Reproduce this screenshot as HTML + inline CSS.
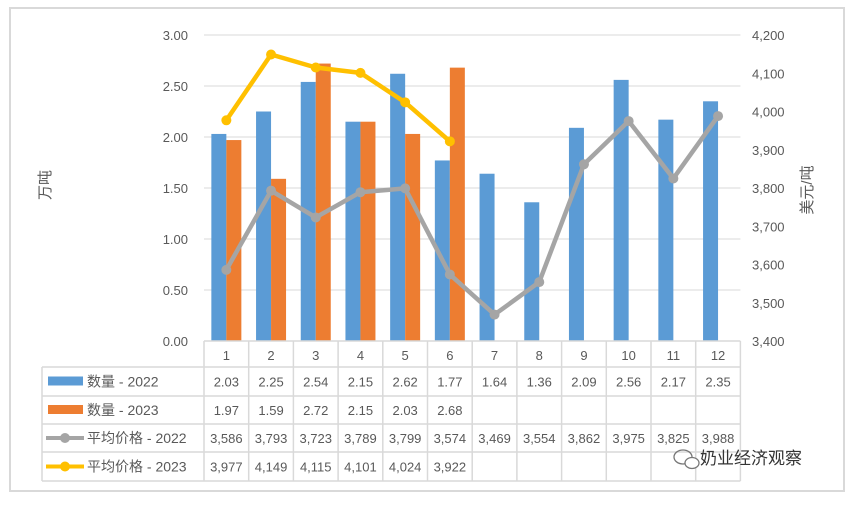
<!DOCTYPE html>
<html><head><meta charset="utf-8"><style>
body{margin:0;background:#fff;font-family:"Liberation Sans","Noto Sans CJK SC",sans-serif;}
svg text{font-family:"Liberation Sans","Noto Sans CJK SC",sans-serif;fill:#595959;}
</style></head><body>
<svg id="chart" width="859" height="503" xmlns="http://www.w3.org/2000/svg">
<rect x="10" y="8" width="834" height="483" fill="#fff" stroke="#d9d9d9" stroke-width="2"/>
<g id="grid"></g><g id="bars"></g><g id="lines"></g><g id="axes"></g><g id="table"></g>
<text x="50" y="185" font-size="15" transform="rotate(-90 50 185)" text-anchor="middle">万吨</text>
<text x="812" y="190" font-size="15" transform="rotate(-90 812 190)" text-anchor="middle">美元/吨</text>
<g>
<ellipse cx="683" cy="457" rx="9" ry="7" fill="none" stroke="#777" stroke-width="1.3"/>
<ellipse cx="692" cy="463" rx="7" ry="5.5" fill="#fff" stroke="#777" stroke-width="1.3"/>
<text x="700" y="464" font-size="17" style="fill:#333">奶业经济观察</text></g>
</svg>
<script>
const categories=["1","2","3","4","5","6","7","8","9","10","11","12"];
const qty2022=[2.03,2.25,2.54,2.15,2.62,1.77,1.64,1.36,2.09,2.56,2.17,2.35];
const qty2023=[1.97,1.59,2.72,2.15,2.03,2.68,null,null,null,null,null,null];
const price2022=[3586,3793,3723,3789,3799,3574,3469,3554,3862,3975,3825,3988];
const price2023=[3977,4149,4115,4101,4024,3922,null,null,null,null,null,null];
const leftTicks=[0,0.5,1,1.5,2,2.5,3];
const rightTicks=[3400,3500,3600,3700,3800,3900,4000,4100,4200];
const NS="http://www.w3.org/2000/svg";
const X0=204,CW=44.7,Y0=341,YT=35;
const yL=v=>Y0-(v/3)*(Y0-YT);
const yR=v=>Y0-((v-3400)/800)*(Y0-YT);
const xc=i=>X0+CW*(i+0.5);
function mk(tag,attrs,parent,txt){const e=document.createElementNS(NS,tag);for(const k in attrs)e.setAttribute(k,attrs[k]);if(txt!==undefined)e.textContent=txt;document.getElementById(parent).appendChild(e);return e;}
leftTicks.forEach(t=>{
 if(t>0){const l=mk('line',{x1:X0,x2:X0+CW*12,y1:yL(t),y2:yL(t),stroke:'#d9d9d9','stroke-width':1},'grid');
 
 }
 const tx=mk('text',{x:188,y:yL(t)+5,'font-size':13,'text-anchor':'end'},'axes',t.toFixed(2));
 
 
});
rightTicks.forEach(t=>{
 const tx=mk('text',{x:752,y:yR(t)+5,'font-size':13},'axes',t.toLocaleString('en-US'));
 
 
});
categories.forEach((c,i)=>{
 const b=mk('rect',{x:xc(i)-15,y:yL(qty2022[i]),width:15,height:Y0-yL(qty2022[i]),fill:'#5b9bd5'},'bars');
 
 
 if(qty2023[i]!=null){const o=mk('rect',{x:xc(i),y:yL(qty2023[i]),width:15,height:Y0-yL(qty2023[i]),fill:'#ed7d31'},'bars');
 
 }
});
function line(vals,color,name){
 const pts=vals.map((v,i)=>v==null?null:[xc(i),yR(v)]).filter(p=>p);
 const pl=mk('polyline',{points:pts.map(p=>p.join(',')).join(' '),fill:'none',stroke:color,'stroke-width':4.5,'stroke-linejoin':'round'},'lines');
 
 
 pts.forEach(p=>{const c=mk('circle',{cx:p[0],cy:p[1],r:5,fill:color},'lines');
 
 });
}
line(price2022,'#a5a5a5','price-2022');
line(price2023,'#ffc000','price-2023');
// table
const rows=[341,367,396,424,452,481];
const g='table';
const gl=(x1,y1,x2,y2)=>{const l=mk('line',{x1,y1,x2,y2,stroke:'#d9d9d9','stroke-width':1.5},g);
 
 };
const XR=X0+CW*12;
gl(X0,rows[0],XR,rows[0]);
for(let r=1;r<rows.length;r++)gl(42,rows[r],XR,rows[r]);
gl(42,rows[1],42,rows[5]);
for(let i=0;i<=12;i++)gl(X0+CW*i,rows[0],X0+CW*i,rows[5]);
categories.forEach((c,i)=>{const t=mk('text',{x:xc(i),y:360,'font-size':13,'text-anchor':'middle'},g,c);
 
 });
const series=[[qty2022,v=>v.toFixed(2),'数量 - 2022','#5b9bd5','bar'],[qty2023,v=>v.toFixed(2),'数量 - 2023','#ed7d31','bar'],[price2022,v=>v.toLocaleString('en-US'),'平均价格 - 2022','#a5a5a5','line'],[price2023,v=>v.toLocaleString('en-US'),'平均价格 - 2023','#ffc000','line']];
series.forEach((s,r)=>{
 const cy=(rows[r+1]+rows[r+2])/2;
 if(s[4]==='bar'){const k=mk('rect',{x:48,y:cy-5,width:35,height:9,fill:s[3]},g);
 
 }
 else{const k=mk('line',{x1:46,x2:84,y1:cy,y2:cy,stroke:s[3],'stroke-width':4},g);
 
 
 mk('circle',{cx:65,cy:cy,r:5,fill:s[3]},g);}
 const lt=mk('text',{x:87,y:cy+5,'font-size':14},g,s[2]);
 
 
 s[0].forEach((v,i)=>{if(v==null)return;const t=mk('text',{x:xc(i),y:cy+5,'font-size':13,'text-anchor':'middle'},g,s[1](v));
 
 });
});
</script>
</body></html>
